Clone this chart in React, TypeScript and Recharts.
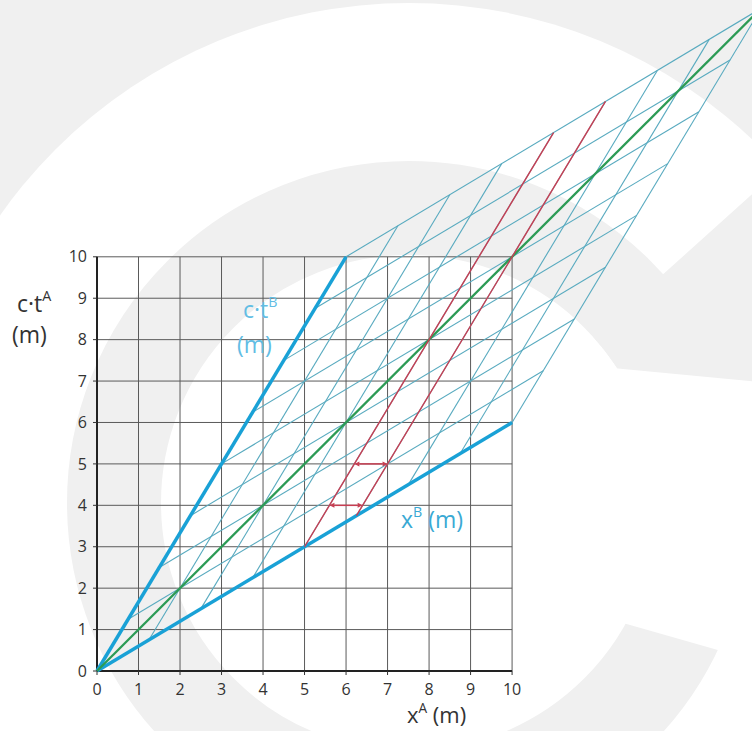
import React from "react";
import { ComposedChart, XAxis, YAxis, ReferenceLine } from "recharts";

// frame A ticks and grid (metres)
const TICKS = [0, 1, 2, 3, 4, 5, 6, 7, 8, 9, 10];
const A_GRID = [1, 2, 3, 4, 5, 6, 7, 8, 9, 10];

// frame B: lines of constant x^B (parallel to the ct^B axis)
const XB_FROM_X = [1.25, 2.5, 3.75, 5, 6.25, 7.5, 8.75, 10];
const XB_FROM_Y = [0.75, 1.5, 2.25, 3, 3.75, 4.5, 5.25, 6];
const XB_TO_X = [7.25, 8.5, 9.75, 11, 12.25, 13.5, 14.75, 16];
const XB_TO_Y = [10.75, 11.5, 12.25, 13, 13.75, 14.5, 15.25, 16];

// frame B: lines of constant ct^B (parallel to the x^B axis)
const CTB_FROM_X = [0.75, 1.5, 2.25, 3, 3.75, 4.5, 5.25, 6];
const CTB_FROM_Y = [1.25, 2.5, 3.75, 5, 6.25, 7.5, 8.75, 10];
const CTB_TO_X = [10.75, 11.5, 12.25, 13, 13.75, 14.5, 15.25, 16];
const CTB_TO_Y = [7.25, 8.5, 9.75, 11, 12.25, 13.5, 14.75, 16];

// B axes and the light line
const CTB_AXIS_END = { x: 6, y: 10 };
const XB_AXIS_END = { x: 10, y: 6 };
const LIGHT_END = { x: 16, y: 16 };

// red world lines (x^B = 4 and x^B = 5)
const RED_FROM_X = [5, 6.25];
const RED_FROM_Y = [3, 3.75];
const RED_TO_X = [11, 12.25];
const RED_TO_Y = [13, 13.75];

// red length arrows
const ARROW_Y = [4, 5];
const ARROW_FROM_X = [5.6, 6.2];
const ARROW_TO_X = [6.4, 7.0];

const W = 752;
const H = 731;
const FONT = "'Open Sans', 'Noto Sans', sans-serif";
const GRID = "#5a5a5a";
const CYAN_THIN = "#58aabf";
const CYAN = "#19a1d6";
const GREEN = "#2c9b55";
const RED = "#c83e52";
const WM = "#f0f0f0";

const tickStyle = { fill: "#333", fontSize: 16, fontFamily: FONT };

function Arrow(p: any) {
  const { x1, y1, x2, y2 } = p;
  const h = 5;
  const w = 2.5;
  return (
    <g>
      <line x1={x1 + h} y1={y1} x2={x2 - h} y2={y2} stroke={RED} strokeWidth={1.5} />
      <path d={`M${x1},${y1} L${x1 + h},${y1 - w} L${x1 + h},${y1 + w} Z`} fill={RED} />
      <path d={`M${x2},${y2} L${x2 - h},${y2 - w} L${x2 - h},${y2 + w} Z`} fill={RED} />
    </g>
  );
}

function Sup({ children }: { children: React.ReactNode }) {
  return (
    <span style={{ fontSize: "0.62em", verticalAlign: "0.75em", lineHeight: 0 }}>{children}</span>
  );
}

// faint "C" logo in the background
function Watermark() {
  const cx = 409;
  const cy = 503;
  const pt = (r: number, deg: number) => {
    const a = (deg * Math.PI) / 180;
    return `${(cx + r * Math.cos(a)).toFixed(1)},${(cy + r * Math.sin(a)).toFixed(1)}`;
  };
  const r1 = 248;
  const r2 = 700;
  const a1 = -42;
  const a2 = -8;
  const sector = `M${pt(r1, a1)} L${pt(r2, a1)} A${r2},${r2} 0 0 1 ${pt(r2, a2)} L${pt(r1, a2)} A${r1},${r1} 0 0 0 ${pt(r1, a1)} Z`;
  return (
    <svg width={W} height={H} style={{ position: "absolute", left: 0, top: 0 }}>
      <rect width={W} height={H} fill={WM} />
      <circle cx={cx} cy={cy} r={500} fill="#fff" />
      <circle cx={cx} cy={cy} r={295} fill="none" stroke={WM} strokeWidth={94} />
      <path d={sector} fill={WM} />
      <polygon points="560,363 760,382 760,662 560,605" fill="#fff" />
    </svg>
  );
}

export default function App() {
  const seg = (ax: number, ay: number, bx: number, by: number) => [
    { x: ax, y: ay },
    { x: bx, y: by },
  ];

  const label: React.CSSProperties = {
    position: "absolute",
    fontFamily: FONT,
    fontSize: 23,
    lineHeight: "26px",
    whiteSpace: "nowrap",
  };

  return (
    <div style={{ position: "absolute", left: 0, top: 0, width: W, height: H, overflow: "hidden", background: "#fff" }}>
      <Watermark />
      <div style={{ position: "absolute", left: 0, top: 0 }}>
        <ComposedChart width={W} height={H} margin={{ top: 0, right: 0, bottom: 0, left: 0 }}>
          <XAxis
            type="number"
            dataKey="x"
            domain={[0, 15.78]}
            allowDataOverflow
            ticks={TICKS}
            interval={0}
            height={60}
            axisLine={false}
            tickLine={{ stroke: "#333" }}
            tickSize={4}
            tickMargin={9}
            tick={tickStyle}
          />
          <YAxis
            type="number"
            dataKey="y"
            domain={[0, 16.2]}
            allowDataOverflow
            ticks={TICKS}
            interval={0}
            width={97}
            axisLine={false}
            tickLine={{ stroke: "#333" }}
            tickSize={4}
            tickMargin={6}
            tick={tickStyle}
          />

          {A_GRID.map((v) => (
            <ReferenceLine key={`v${v}`} segment={seg(v, 0, v, 10)} stroke={GRID} strokeWidth={1} ifOverflow="visible" />
          ))}
          {A_GRID.map((v) => (
            <ReferenceLine key={`h${v}`} segment={seg(0, v, 10, v)} stroke={GRID} strokeWidth={1} ifOverflow="visible" />
          ))}
          <ReferenceLine segment={seg(0, 0, 0, 10)} stroke="#222" strokeWidth={2} ifOverflow="visible" />
          <ReferenceLine segment={seg(0, 0, 10, 0)} stroke="#222" strokeWidth={2} ifOverflow="visible" />

          {XB_FROM_X.map((x, i) => (
            <ReferenceLine
              key={`xb${i}`}
              segment={seg(x, XB_FROM_Y[i], XB_TO_X[i], XB_TO_Y[i])}
              stroke={CYAN_THIN}
              strokeWidth={1.1}
              ifOverflow="visible"
            />
          ))}
          {CTB_FROM_X.map((x, i) => (
            <ReferenceLine
              key={`ctb${i}`}
              segment={seg(x, CTB_FROM_Y[i], CTB_TO_X[i], CTB_TO_Y[i])}
              stroke={CYAN_THIN}
              strokeWidth={1.1}
              ifOverflow="visible"
            />
          ))}

          <ReferenceLine segment={seg(0, 0, CTB_AXIS_END.x, CTB_AXIS_END.y)} stroke={CYAN} strokeWidth={3.5} ifOverflow="visible" />
          <ReferenceLine segment={seg(0, 0, XB_AXIS_END.x, XB_AXIS_END.y)} stroke={CYAN} strokeWidth={3.5} ifOverflow="visible" />
          <ReferenceLine segment={seg(0, 0, LIGHT_END.x, LIGHT_END.y)} stroke={GREEN} strokeWidth={2.3} ifOverflow="visible" />

          {RED_FROM_X.map((x, i) => (
            <ReferenceLine
              key={`red${i}`}
              segment={seg(x, RED_FROM_Y[i], RED_TO_X[i], RED_TO_Y[i])}
              stroke={RED}
              strokeWidth={1.4}
              ifOverflow="visible"
            />
          ))}
          {ARROW_Y.map((y, i) => (
            <ReferenceLine
              key={`arr${i}`}
              segment={seg(ARROW_FROM_X[i], y, ARROW_TO_X[i], y)}
              ifOverflow="visible"
              shape={Arrow}
            />
          ))}
        </ComposedChart>
      </div>

      <div style={{ ...label, left: 15, top: 288, color: "#333", lineHeight: "31px" }}>
        <span style={{ marginLeft: 2 }}>
          c·t<Sup>A</Sup>
        </span>
        <br />
        <span style={{ marginLeft: -3 }}>(m)</span>
      </div>
      <div style={{ ...label, left: 407, top: 702, fontSize: 22, lineHeight: "25px", color: "#333" }}>
        x<Sup>A</Sup> (m)
      </div>
      <div style={{ ...label, left: 242, top: 292, color: "#62bde4", lineHeight: "35px" }}>
        <span style={{ marginLeft: 1 }}>
          c·t<Sup>B</Sup>
        </span>
        <br />
        <span style={{ marginLeft: -5 }}>(m)</span>
      </div>
      <div style={{ ...label, left: 401, top: 506, color: "#3aa9d4" }}>
        x<Sup>B</Sup> (m)
      </div>
    </div>
  );
}
